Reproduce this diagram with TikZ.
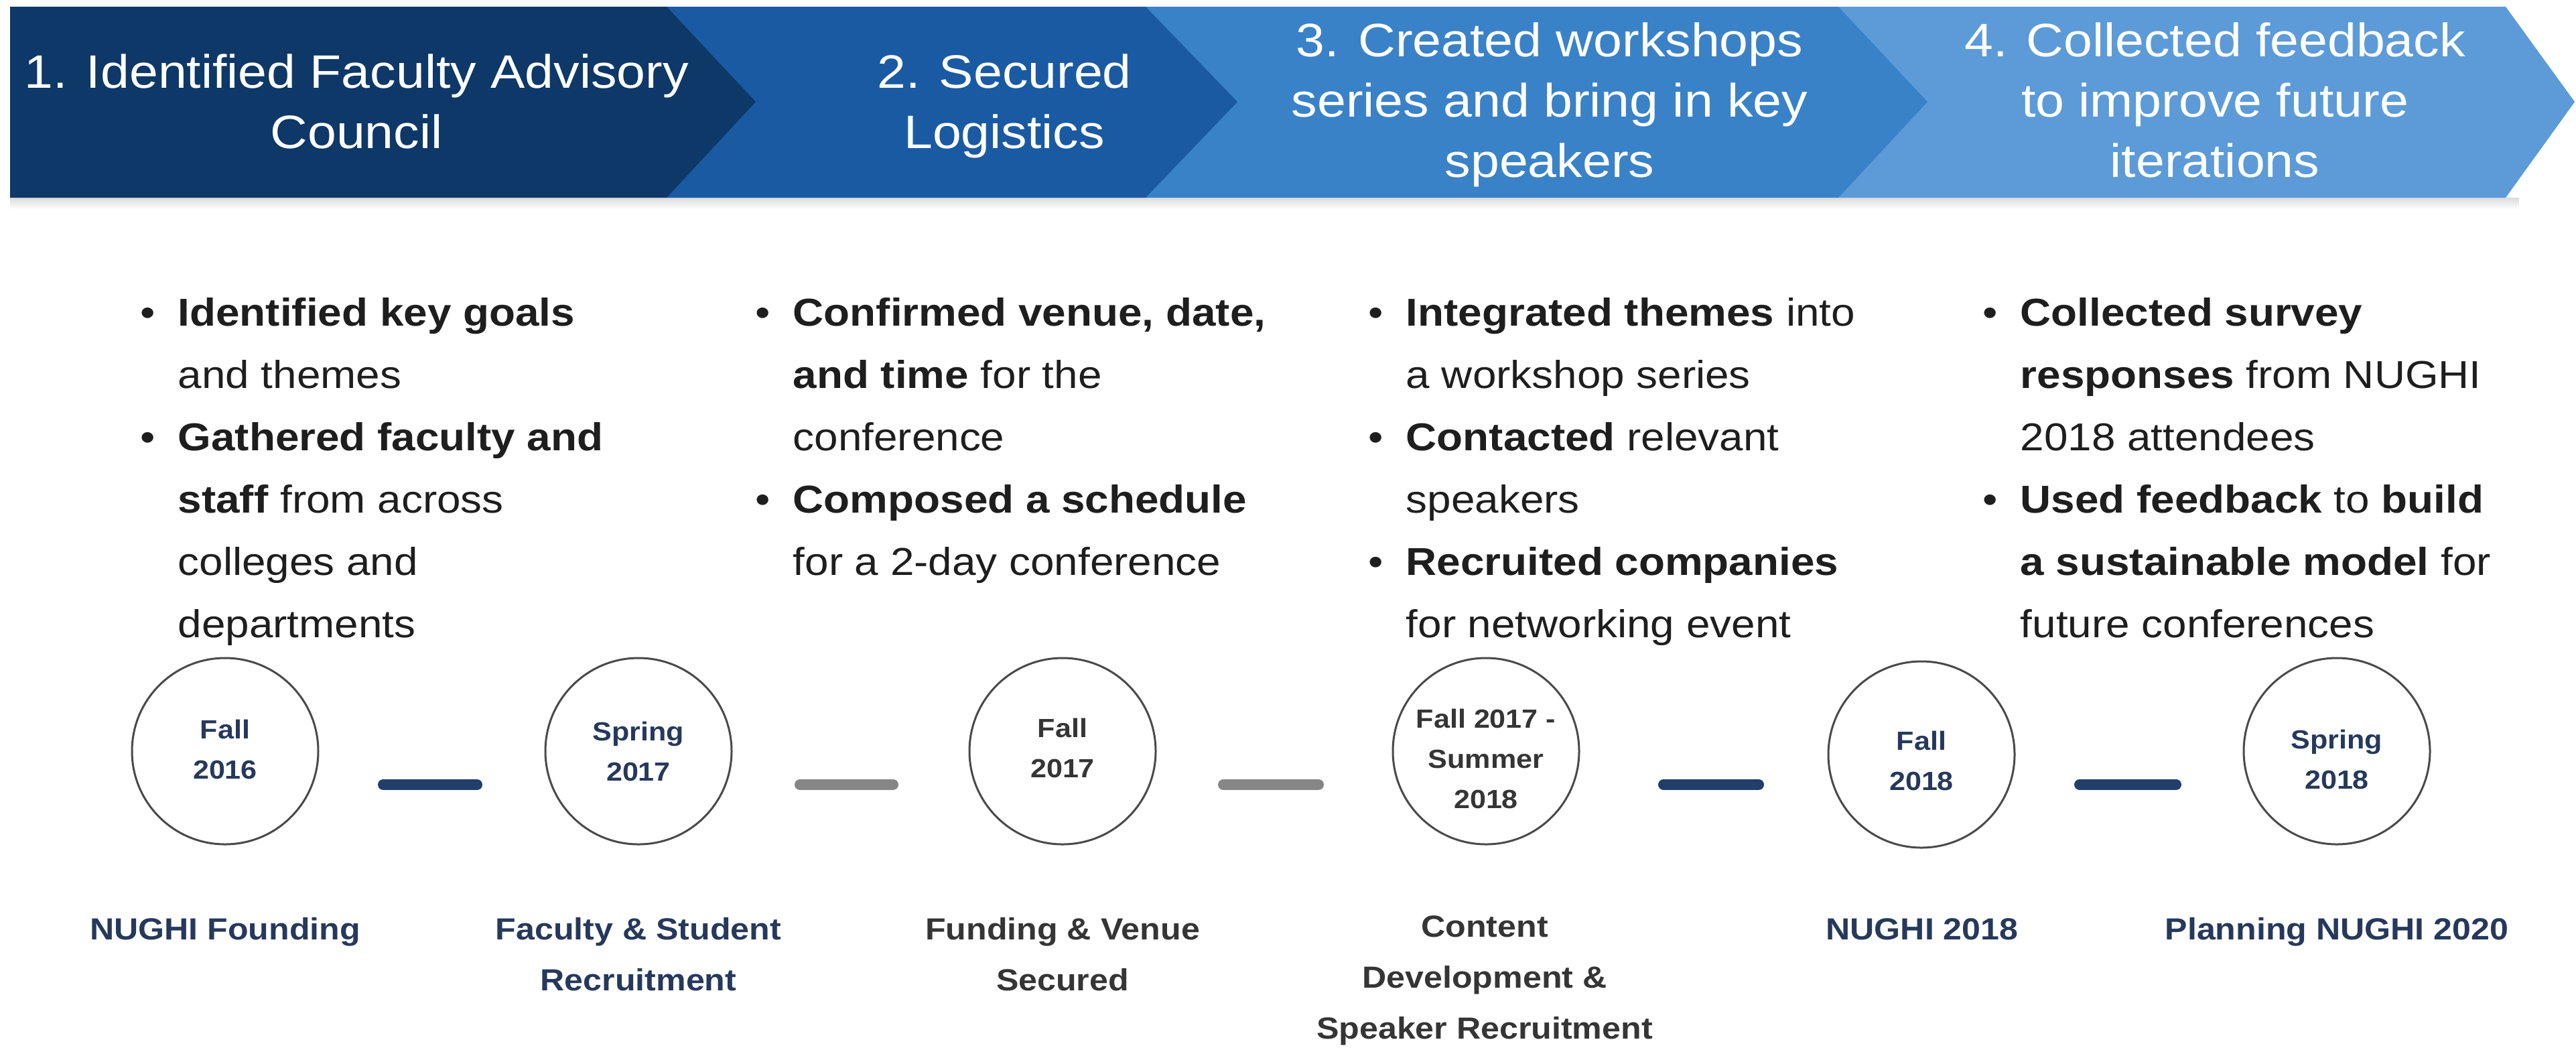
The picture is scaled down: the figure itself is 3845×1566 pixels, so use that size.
\documentclass[tikz,border=0pt]{standalone}
\usepackage{fontspec}
\setmainfont{Liberation Sans}[FakeStretch=1.1]
\usetikzlibrary{calc}
\definecolor{chA}{HTML}{0D3868}
\definecolor{chB}{HTML}{1A5AA2}
\definecolor{chC}{HTML}{3A82C8}
\definecolor{chD}{HTML}{5C9BD8}
\definecolor{navy}{HTML}{26395C}
\definecolor{barnavy}{HTML}{223F6B}
\definecolor{bargray}{HTML}{868686}
\definecolor{txtgray}{HTML}{353535}
\definecolor{bodytxt}{HTML}{1E1E1E}
\definecolor{ringgray}{HTML}{4A4A4A}
\newcommand{\bu}{\makebox[14pt][l]{•}}
\newcommand{\ind}{\hspace*{14pt}}
\tikzset{
  headtxt/.style={anchor=base, inner sep=0, text=white,
    font=\fontsize{17.5pt}{22.5pt}\selectfont},
  bodytext/.style={anchor=base west, inner sep=0, text=bodytxt,
    font=\fontsize{14.5pt}{23.25pt}\selectfont},
  ring/.style={circle, draw=ringgray, line width=0.75pt, minimum size=69.5pt, inner sep=0},
  ringtxt/.style={anchor=base, inner sep=0, font=\bfseries\fontsize{9.8pt}{15pt}\selectfont},
  lbl/.style={anchor=base, inner sep=0, font=\bfseries\fontsize{11.4pt}{19pt}\selectfont},
  bar/.style={line width=4pt, line cap=round}
}
\begin{document}
\begin{tikzpicture}[x=0.25pt, y=-0.25pt]
\path[use as bounding box, fill=white] (0,0) rectangle (3845,1566);

% soft shadow under the header band
\shade[top color=black!14, bottom color=white] (15,295) rectangle (3760,312);

% header chevrons
\fill[chD] (2744,10) -- (3740,10) -- (3843,152) -- (3740,295) -- (2744,295) -- cycle;
\fill[chC] (1710,10) -- (2744,10) -- (2877,152) -- (2744,295) -- (1710,295) -- cycle;
\fill[chB] (995,10) -- (1710,10) -- (1847,152) -- (1710,295) -- (995,295) -- cycle;
\fill[chA] (15,10) -- (995,10) -- (1128,152) -- (995,295) -- (15,295) -- cycle;

\node[headtxt] (h1) at (532,131) {\parbox[t]{260pt}{\centering 1. Identified Faculty Advisory\\Council}};
\node[headtxt] (h2) at (1499,131) {\parbox[t]{200pt}{\centering 2. Secured\\Logistics}};
\node[headtxt] (h3) at (2313,84) {\parbox[t]{230pt}{\centering 3. Created workshops\\series and bring in key\\speakers}};
\node[headtxt] (h4) at (3306,84) {\parbox[t]{230pt}{\centering 4. Collected feedback\\to improve future\\iterations}};

% body columns
\node[bodytext] (b1) at (209,486) {\parbox[t]{240pt}{%
\bu\textbf{Identified key goals}\\
\ind and themes\\
\bu\textbf{Gathered faculty and}\\
\ind\textbf{staff} from across\\
\ind colleges and\\
\ind departments}};
\node[bodytext] (b2) at (1127,486) {\parbox[t]{240pt}{%
\bu\textbf{Confirmed venue, date,}\\
\ind\textbf{and time} for the\\
\ind conference\\
\bu\textbf{Composed a schedule}\\
\ind for a 2-day conference}};
\node[bodytext] (b3) at (2042,486) {\parbox[t]{240pt}{%
\bu\textbf{Integrated themes} into\\
\ind a workshop series\\
\bu\textbf{Contacted} relevant\\
\ind speakers\\
\bu\textbf{Recruited companies}\\
\ind for networking event}};
\node[bodytext] (b4) at (2959,486) {\parbox[t]{240pt}{%
\bu\textbf{Collected survey}\\
\ind\textbf{responses} from NUGHI\\
\ind 2018 attendees\\
\bu\textbf{Used feedback} to \textbf{build}\\
\ind\textbf{a sustainable model} for\\
\ind future conferences}};

% timeline circles
\node[ring] (c1) at (336,1121) {};
\node[ring] (c2) at (953,1121) {};
\node[ring] (c3) at (1586,1121) {};
\node[ring] (c4) at (2218,1121) {};
\node[ring] (c5) at (2868,1126) {};
\node[ring] (c6) at (3488,1121) {};

\node[ringtxt, text=navy] (t1) at (336,1102) {\parbox[t]{60pt}{\centering Fall\\2016}};
\node[ringtxt, text=navy] (t2) at (953,1105) {\parbox[t]{60pt}{\centering Spring\\2017}};
\node[ringtxt, text=txtgray] (t3) at (1586,1100) {\parbox[t]{60pt}{\centering Fall\\2017}};
\node[ringtxt, text=txtgray] (t4) at (2218,1086) {\parbox[t]{60pt}{\centering Fall 2017 -\\Summer\\2018}};
\node[ringtxt, text=navy] (t5) at (2868,1119) {\parbox[t]{60pt}{\centering Fall\\2018}};
\node[ringtxt, text=navy] (t6) at (3488,1117) {\parbox[t]{60pt}{\centering Spring\\2018}};

% connectors
\coordinate (k1a) at (572,1171); \coordinate (k1b) at (712,1171);
\coordinate (k2a) at (1194,1171); \coordinate (k2b) at (1333,1171);
\coordinate (k3a) at (1826,1171); \coordinate (k3b) at (1968,1171);
\coordinate (k4a) at (2483,1171); \coordinate (k4b) at (2625,1171);
\coordinate (k5a) at (3104,1171); \coordinate (k5b) at (3248,1171);
\draw[bar, barnavy] (k1a) -- (k1b);
\draw[bar, bargray] (k2a) -- (k2b);
\draw[bar, bargray] (k3a) -- (k3b);
\draw[bar, barnavy] (k4a) -- (k4b);
\draw[bar, barnavy] (k5a) -- (k5b);

% labels
\node[lbl, text=navy] (l1) at (336,1402) {\parbox[t]{150pt}{\centering NUGHI Founding}};
\node[lbl, text=navy] (l2) at (953,1402) {\parbox[t]{150pt}{\centering Faculty \& Student\\Recruitment}};
\node[lbl, text=txtgray] (l3) at (1586,1402) {\parbox[t]{150pt}{\centering Funding \& Venue\\Secured}};
\node[lbl, text=txtgray] (l4) at (2216,1398) {\parbox[t]{150pt}{\centering Content\\Development \&\\Speaker Recruitment}};
\node[lbl, text=navy] (l5) at (2869,1402) {\parbox[t]{150pt}{\centering NUGHI 2018}};
\node[lbl, text=navy] (l6) at (3488,1402) {\parbox[t]{150pt}{\centering Planning NUGHI 2020}};
\end{tikzpicture}
\end{document}
